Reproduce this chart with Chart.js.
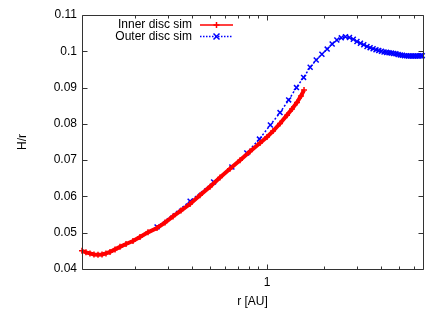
<!DOCTYPE html>
<html><head><meta charset="utf-8">
<script src="https://cdn.jsdelivr.net/npm/chart.js@4.4.0/dist/chart.umd.min.js"></script>
<style>html,body{margin:0;padding:0;background:#fff;}#wrap{width:442px;height:309px;}</style>
</head><body><div id="wrap"><canvas id="c" width="442" height="309"></canvas></div>
<script>
const seriesNames = ['Inner disc sim', 'Outer disc sim'];
const innerR = [0.1050,0.1102,0.1157,0.1215,0.1276,0.1340,0.1406,0.1477,0.1570,0.1668,0.1795,0.1954,0.2128,0.2346,0.2618,0.2886,0.3181,0.3507,0.3915,0.4419,0.4994,0.5640,0.6369,0.7199,0.8128,0.9183,1.000,1.076,1.172,1.276,1.356,1.441,1.513,1.570];
const innerH = [0.0450,0.0446,0.0443,0.0440,0.0439,0.0440,0.0443,0.0447,0.0454,0.0461,0.0469,0.0477,0.0488,0.0501,0.0513,0.0528,0.0545,0.0561,0.0579,0.0603,0.0627,0.0652,0.0676,0.0700,0.0724,0.0747,0.0764,0.0780,0.0801,0.0824,0.0841,0.0859,0.0877,0.0893];
const outerR = [0.262,0.392,0.522,0.652,0.782,0.912,1.042,1.172,1.302,1.432,1.562,1.692,1.822,1.952,2.082,2.212,2.342,2.472,2.602,2.732,2.862,2.992,3.122,3.252,3.382,3.512,3.642,3.772,3.902,4.032,4.162,4.292,4.422,4.552,4.682,4.812,4.942,5.072,5.202,5.332,5.462,5.592,5.722,5.852,5.982,6.112,6.242,6.372,6.502,6.632];
const outerH = [0.0516,0.0587,0.0640,0.0681,0.0720,0.0758,0.0797,0.0831,0.0866,0.0900,0.0928,0.0956,0.0976,0.0992,0.1006,0.1020,0.1031,0.1037,0.1040,0.1038,0.1033,0.1027,0.1022,0.1018,0.1013,0.1010,0.1007,0.1004,0.1002,0.1000,0.0998,0.0997,0.0996,0.0995,0.0994,0.0993,0.0991,0.0990,0.0989,0.0988,0.0988,0.0987,0.0987,0.0987,0.0987,0.0987,0.0987,0.0987,0.0988,0.0988];
const yTickValues = [0.04,0.05,0.06,0.07,0.08,0.09,0.10,0.11];
const xMajorTicks = [1];
const xMinorTicks = [0.2,0.3,0.4,0.5,0.6,0.7,0.8,0.9,2,3,4,5,6];
const xRange = [0.105, 6.69];
const yRange = [0.04, 0.11];

const FONT = '"Liberation Sans", Arial, sans-serif';
const RED = '#ff0000', BLUE = '#0000ff';

const framePlugin = {
  id: 'frame',
  afterDraw(chart) {
    const ctx = chart.ctx, a = chart.chartArea;
    const xs = chart.scales.x, ys = chart.scales.y;
    ctx.save();
    ctx.strokeStyle = '#333';
    ctx.lineWidth = 1;
    const L = Math.round(a.left) + 0.5, R = Math.round(a.right) + 0.5;
    const T = Math.round(a.top) + 0.5, B = Math.round(a.bottom) + 0.5;
    ctx.beginPath();
    ctx.rect(L, T, R - L, B - T);
    ctx.stroke();
    ctx.beginPath();
    yTickValues.forEach(v => {
      const py = Math.round(ys.getPixelForValue(v)) + 0.5;
      ctx.moveTo(L, py); ctx.lineTo(L + 5, py);
      ctx.moveTo(R, py); ctx.lineTo(R - 5, py);
    });
    const xt = (v, len) => {
      const px = Math.round(xs.getPixelForValue(v)) + 0.5;
      ctx.moveTo(px, B); ctx.lineTo(px, B - len);
      ctx.moveTo(px, T); ctx.lineTo(px, T + len);
    };
    xMinorTicks.forEach(v => xt(v, 3));
    xMajorTicks.forEach(v => xt(v, 5));
    ctx.stroke();
    // legend
    ctx.font = '12px ' + FONT;
    ctx.fillStyle = '#000';
    ctx.textAlign = 'right';
    ctx.textBaseline = 'middle';
    const tx = a.left + 110, sx0 = a.left + 118, sx1 = a.left + 151, sm = (sx0 + sx1) / 2;
    const rows = [a.top + 10, a.top + 21.5];
    chart.data.datasets.forEach((ds, i) => {
      const y = rows[i];
      ctx.fillText(seriesNames[i], tx, y);
      ctx.strokeStyle = ds.borderColor;
      ctx.lineWidth = i === 0 ? 1.5 : 1.5;
      ctx.setLineDash(i === 0 ? [] : [1.5, 1.5]);
      ctx.beginPath(); ctx.moveTo(sx0, y); ctx.lineTo(sx1, y); ctx.stroke();
      ctx.setLineDash([]);
      ctx.lineWidth = 1.5;
      ctx.beginPath();
      if (i === 0) {
        ctx.moveTo(sm - 3, y); ctx.lineTo(sm + 3, y);
        ctx.moveTo(sm, y - 3); ctx.lineTo(sm, y + 3);
      } else {
        ctx.moveTo(sm - 3, y - 3); ctx.lineTo(sm + 3, y + 3);
        ctx.moveTo(sm - 3, y + 3); ctx.lineTo(sm + 3, y - 3);
      }
      ctx.stroke();
    });
    ctx.restore();
  }
};

new Chart(document.getElementById('c'), {
  type: 'line',
  data: {
    datasets: [
      {
        label: seriesNames[0],
        data: innerR.map((r, i) => ({x: r, y: innerH[i]})),
        borderColor: RED, backgroundColor: RED,
        borderWidth: 4, pointStyle: 'cross', pointRadius: 3,
        pointBorderWidth: 1.5, pointBorderColor: RED, tension: 0, clip: false
      },
      {
        label: seriesNames[1],
        data: outerR.map((r, i) => ({x: r, y: outerH[i]})),
        borderColor: BLUE, backgroundColor: BLUE,
        borderWidth: 1.5, borderDash: [2, 2], pointStyle: 'crossRot', pointRadius: 3.5,
        pointBorderWidth: 1.5, pointBorderColor: BLUE, tension: 0, clip: false
      }
    ]
  },
  options: {
    responsive: false, animation: false, devicePixelRatio: 1,
    layout: {padding: {left: 0, right: 19, top: 15, bottom: 0}},
    plugins: {legend: {display: false}, tooltip: {enabled: false}},
    scales: {
      x: {
        type: 'logarithmic', min: xRange[0], max: xRange[1],
        grid: {display: false, drawTicks: false}, border: {display: false},
        afterBuildTicks: s => { s.ticks = xMajorTicks.map(v => ({value: v})); },
        afterFit: s => { s.height = 40; },
        ticks: {callback: v => String(v), font: {size: 12, family: FONT}, color: '#000', padding: 6, maxRotation: 0, autoSkip: false},
        title: {display: true, text: 'r [AU]', font: {size: 12, family: FONT}, color: '#000', padding: {top: 0, bottom: 0}}
      },
      y: {
        type: 'linear', min: yRange[0], max: yRange[1],
        grid: {display: false, drawTicks: false}, border: {display: false},
        afterBuildTicks: s => { s.ticks = yTickValues.map(v => ({value: v})); },
        afterFit: s => { s.width = 82; },
        ticks: {callback: v => String(+v.toFixed(2)), font: {size: 12, family: FONT}, color: '#000', padding: 5},
        title: {display: true, text: 'H/r', font: {size: 12, family: FONT}, color: '#000', padding: {top: 15, bottom: 0}}
      }
    }
  },
  plugins: [framePlugin]
});
</script></body></html>
